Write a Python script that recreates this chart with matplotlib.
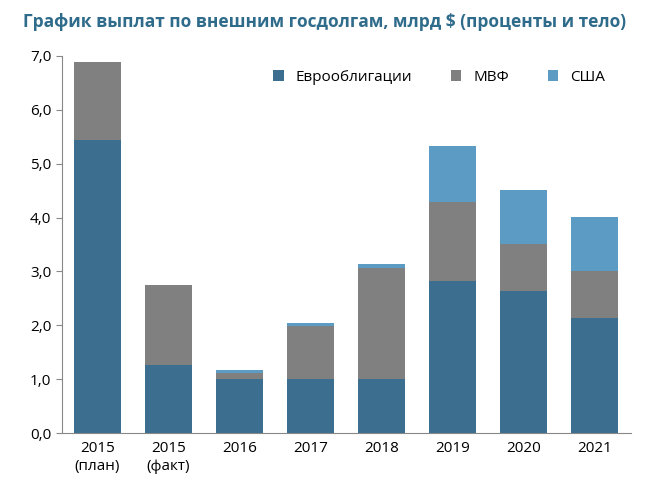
import matplotlib
matplotlib.use("Agg")
import matplotlib.pyplot as plt
import numpy as np

categories = ["2015\n(план)", "2015\n(факт)", "2016", "2017", "2018", "2019", "2020", "2021"]
euro = [5.44, 1.27, 1.0, 1.0, 1.0, 2.82, 2.64, 2.14]
imf = [1.45, 1.48, 0.11, 0.99, 2.06, 1.47, 0.87, 0.87]
usa = [0.0, 0.0, 0.07, 0.05, 0.08, 1.04, 1.0, 1.0]
yticks = [0, 1, 2, 3, 4, 5, 6, 7]

c_euro, c_imf, c_usa = "#3b6e8f", "#808080", "#5b9bc4"
plt.rcParams["font.family"] = "Open Sans"

fig = plt.figure(figsize=(6.5, 4.95), dpi=100)
ax = fig.add_axes([0.095, 0.125, 0.875, 0.762])
x = np.arange(len(categories))
w = 0.66
ax.bar(x, euro, w, color=c_euro, label="Еврооблигации")
ax.bar(x, imf, w, bottom=euro, color=c_imf, label="МВФ")
ax.bar(x, usa, w, bottom=np.add(euro, imf), color=c_usa, label="США")

ax.set_ylim(0, 7)
ax.set_xlim(-0.5, len(categories) - 0.5)
ax.set_yticks(yticks)
ax.set_yticklabels([f"{v:.1f}".replace(".", ",") for v in yticks], fontsize=11)
ax.set_xticks(x)
ax.set_xticklabels(categories, fontsize=11)
ax.tick_params(axis="x", length=0, pad=6)
ax.tick_params(axis="y", length=4, color="#888888")
for s in ["top", "right"]:
    ax.spines[s].set_visible(False)
for s in ["left", "bottom"]:
    ax.spines[s].set_color("#888888")

ax.legend(loc="upper right", ncol=3, frameon=False, fontsize=11, handlelength=0.7,
          handleheight=0.7, columnspacing=2.5, bbox_to_anchor=(0.98, 1.0))
fig.text(0.5, 0.955, "График выплат по внешним госдолгам, млрд $ (проценты и тело)",
         ha="center", va="center", fontsize=12.5, fontweight="bold", color="#2f6b8a")
fig.savefig("out.png")
